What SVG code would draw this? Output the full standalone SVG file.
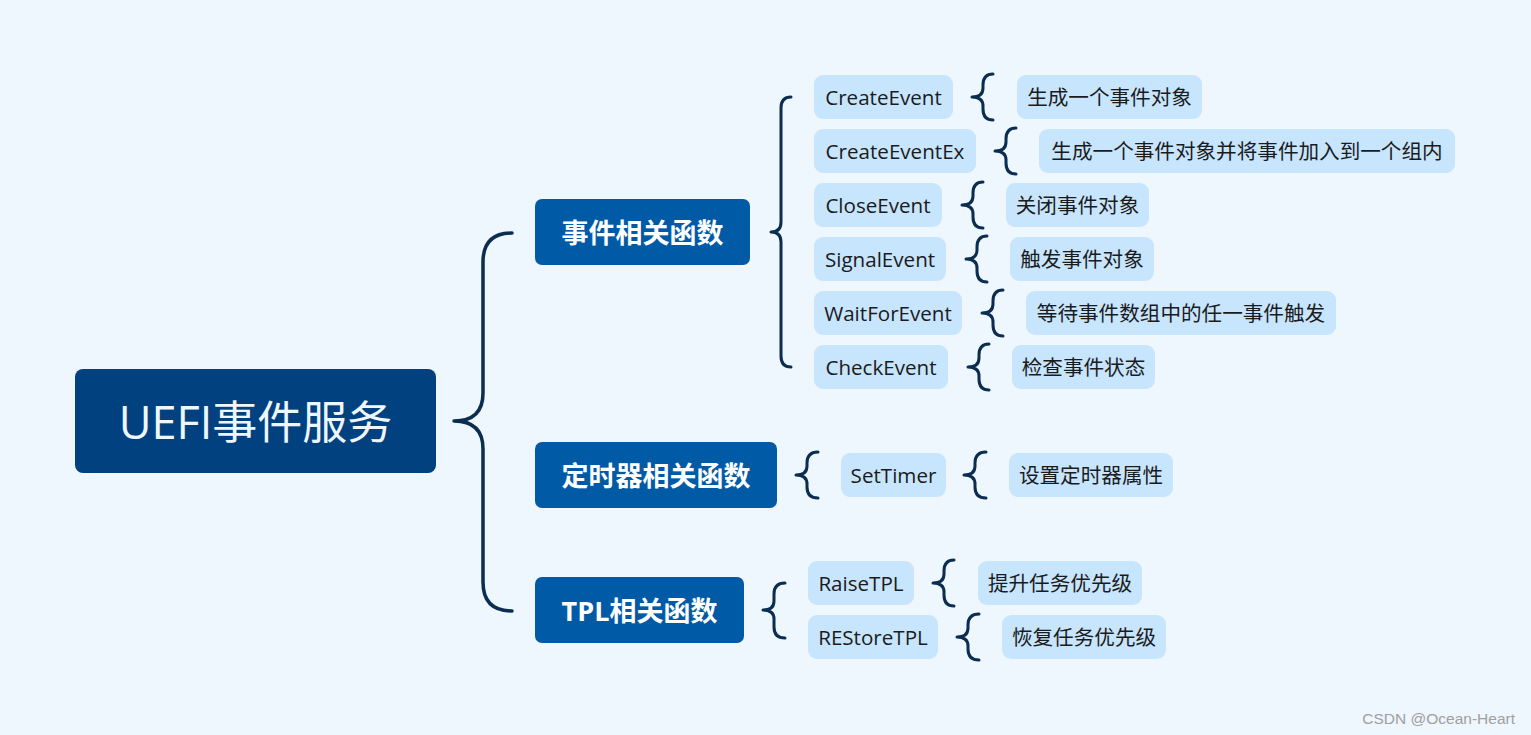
<svg xmlns="http://www.w3.org/2000/svg" width="1531" height="735" viewBox="0 0 1531 735">
<style>
.bg{fill:#EEF6FE}
.root rect{fill:#01417F}
.root text{fill:#EEF6FE;font-family:"Open Sans","Noto Sans CJK SC",sans-serif;font-size:45px;text-anchor:middle;dominant-baseline:central}
.l1 rect{fill:#015AA5}
.l1 text{fill:#FFFFFF;font-family:"Open Sans","Noto Sans CJK SC",sans-serif;font-size:27px;font-weight:bold;text-anchor:middle;dominant-baseline:central}
.l2 rect{fill:#C7E5FD}
.l2 text{fill:#1B1B1B;font-family:"Open Sans","Noto Sans CJK SC",sans-serif;font-size:20.6px;text-anchor:middle;dominant-baseline:central}
.br{fill:none;stroke:#0B2D50;stroke-width:3;stroke-linecap:round;stroke-linejoin:round}
.big{stroke-width:3.5}
.wm{fill:#A0A0A0;font-family:"Liberation Sans",Arial,sans-serif;font-size:15.5px;text-anchor:end}
</style>
<rect class="bg" x="0" y="0" width="1531" height="735"/>
<g id="connectors">
<path class="br big" d="M512,233 Q483,233 483,262 L483,393 Q483,421 454,421 Q483,421 483,449 L483,582 Q483,611 512,611"/>
<path class="br" d="M791,97 Q781,97 781,108 L781,222 Q781,232 771,232 Q781,232 781,242 L781,356 Q781,367 791,367"/>
<path class="br" d="M818,452 Q807,452 807,463 L807,466 Q807,475 796,475 Q807,475 807,484 L807,487 Q807,498 818,498"/>
<path class="br" d="M785,583 Q774,583 774,594 L774,601 Q774,610 763,610 Q774,610 774,619 L774,627 Q774,638 785,638"/>
<path class="br" d="M993,74 Q983,74 983,85 L983,88 Q983,97 972,97 Q983,97 983,106 L983,109 Q983,120 993,120"/>
<path class="br" d="M1016,128 Q1006,128 1006,139 L1006,142 Q1006,151 995,151 Q1006,151 1006,160 L1006,163 Q1006,174 1016,174"/>
<path class="br" d="M983,182 Q973,182 973,193 L973,196 Q973,205 962,205 Q973,205 973,214 L973,217 Q973,228 983,228"/>
<path class="br" d="M987,236 Q977,236 977,247 L977,250 Q977,259 966,259 Q977,259 977,268 L977,271 Q977,282 987,282"/>
<path class="br" d="M1003,290 Q993,290 993,301 L993,304 Q993,313 982,313 Q993,313 993,322 L993,325 Q993,336 1003,336"/>
<path class="br" d="M989,344 Q979,344 979,355 L979,358 Q979,367 968,367 Q979,367 979,376 L979,379 Q979,390 989,390"/>
<path class="br" d="M986,452 Q975,452 975,463 L975,466 Q975,475 964,475 Q975,475 975,484 L975,487 Q975,498 986,498"/>
<path class="br" d="M954,560 Q944,560 944,571 L944,574 Q944,583 933,583 Q944,583 944,592 L944,595 Q944,606 954,606"/>
<path class="br" d="M979,614 Q968,614 968,625 L968,628 Q968,637 957,637 Q968,637 968,646 L968,649 Q968,660 979,660"/>
</g>
<g id="root" class="root"><rect x="75" y="369" width="361" height="104" rx="8"/><text x="255.5" y="421">UEFI事件服务</text></g>
<g id="n-event" class="l1"><rect x="535" y="199" width="215" height="66" rx="7"/><text x="642.5" y="232">事件相关函数</text></g>
<g id="n-timer" class="l1"><rect x="535" y="442" width="242" height="66" rx="7"/><text x="656" y="475">定时器相关函数</text></g>
<g id="n-tpl" class="l1"><rect x="535" y="577" width="209" height="66" rx="7"/><text x="639.5" y="610">TPL相关函数</text></g>
<g id="n-createevent" class="l2"><rect x="814" y="75" width="139" height="44" rx="9"/><text x="883.5" y="97">CreateEvent</text></g>
<g id="n-createeventex" class="l2"><rect x="814" y="129" width="162" height="44" rx="9"/><text x="895" y="151">CreateEventEx</text></g>
<g id="n-closeevent" class="l2"><rect x="814" y="183" width="128" height="44" rx="9"/><text x="878" y="205">CloseEvent</text></g>
<g id="n-signalevent" class="l2"><rect x="814" y="237" width="132" height="44" rx="9"/><text x="880" y="259">SignalEvent</text></g>
<g id="n-waitforevent" class="l2"><rect x="814" y="291" width="148" height="44" rx="9"/><text x="888" y="313">WaitForEvent</text></g>
<g id="n-checkevent" class="l2"><rect x="814" y="345" width="134" height="44" rx="9"/><text x="881" y="367">CheckEvent</text></g>
<g id="n-settimer" class="l2"><rect x="841" y="453" width="105" height="44" rx="9"/><text x="893.5" y="475">SetTimer</text></g>
<g id="n-raisetpl" class="l2"><rect x="808" y="561" width="106" height="44" rx="9"/><text x="861" y="583">RaiseTPL</text></g>
<g id="n-restoretpl" class="l2"><rect x="808" y="615" width="130" height="44" rx="9"/><text x="873" y="637">REStoreTPL</text></g>
<g id="d-createevent" class="l2"><rect x="1017" y="75" width="185" height="44" rx="9"/><text x="1109.5" y="97">生成一个事件对象</text></g>
<g id="d-createeventex" class="l2"><rect x="1039" y="129" width="416" height="44" rx="9"/><text x="1247" y="151">生成一个事件对象并将事件加入到一个组内</text></g>
<g id="d-closeevent" class="l2"><rect x="1006" y="183" width="143" height="44" rx="9"/><text x="1077.5" y="205">关闭事件对象</text></g>
<g id="d-signalevent" class="l2"><rect x="1010" y="237" width="144" height="44" rx="9"/><text x="1082" y="259">触发事件对象</text></g>
<g id="d-waitforevent" class="l2"><rect x="1026" y="291" width="310" height="44" rx="9"/><text x="1181" y="313">等待事件数组中的任一事件触发</text></g>
<g id="d-checkevent" class="l2"><rect x="1012" y="345" width="143" height="44" rx="9"/><text x="1083.5" y="367">检查事件状态</text></g>
<g id="d-settimer" class="l2"><rect x="1009" y="453" width="164" height="44" rx="9"/><text x="1091" y="475">设置定时器属性</text></g>
<g id="d-raisetpl" class="l2"><rect x="978" y="561" width="164" height="44" rx="9"/><text x="1060" y="583">提升任务优先级</text></g>
<g id="d-restoretpl" class="l2"><rect x="1002" y="615" width="164" height="44" rx="9"/><text x="1084" y="637">恢复任务优先级</text></g>
<text class="wm" x="1515" y="724">CSDN @Ocean-Heart</text>
</svg>
